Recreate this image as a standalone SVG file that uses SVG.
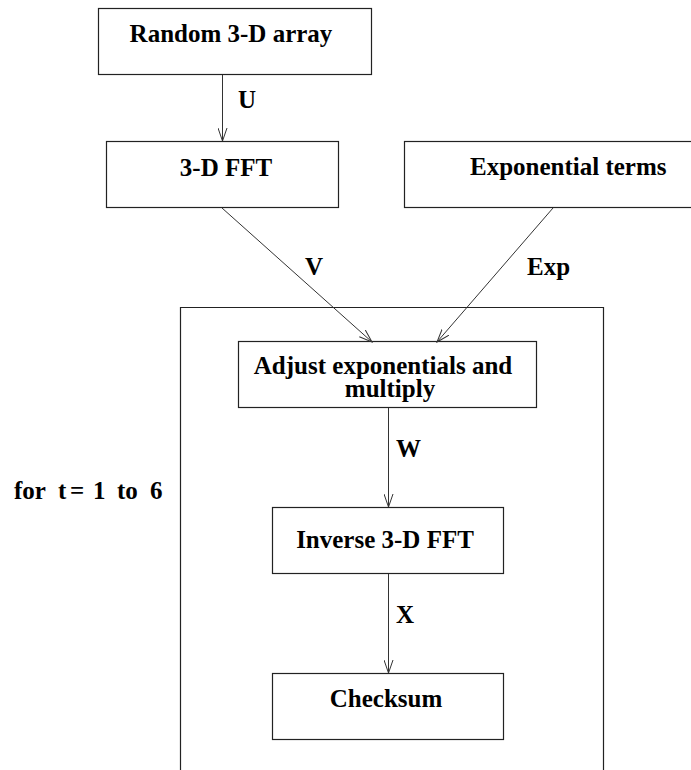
<svg xmlns="http://www.w3.org/2000/svg" width="691" height="770" viewBox="0 0 691 770">
<defs>
<style>
.box{fill:#fff;stroke:#222;stroke-width:1.2}
.loop{fill:none;stroke:#222;stroke-width:1.2}
.t{font-family:"Liberation Serif","Times New Roman",serif;font-weight:bold;font-size:25px;fill:#000}
.c{text-anchor:middle}
.edge{fill:none;stroke:#333;stroke-width:1}
</style>
<marker id="arr" viewBox="0 0 14 10" refX="13" refY="5" markerWidth="14" markerHeight="10" markerUnits="userSpaceOnUse" orient="auto">
<path d="M0,0.5 L13,5 L0,9.5" fill="none" stroke="#333" stroke-width="1"/>
</marker>
</defs>
<rect width="691" height="770" fill="#fff"/>
<g id="loop">
<path class="loop" d="M180.5,770 V307.5 H603.5 V770"/>
<text class="t" y="499"><tspan x="14">for</tspan><tspan x="58">t</tspan><tspan x="70">=</tspan><tspan x="93">1</tspan><tspan x="117">to</tspan><tspan x="150">6</tspan></text>
</g>
<g id="n-random">
<rect class="box" x="98.5" y="8.5" width="273" height="66"/>
<text class="t c" x="231" y="42">Random 3-D array</text>
</g>
<g id="n-fft">
<rect class="box" x="106.5" y="141.5" width="232" height="66"/>
<text class="t c" x="226" y="176">3-D FFT</text>
</g>
<g id="n-exp">
<rect class="box" x="404.5" y="141.5" width="300" height="66"/>
<text class="t" x="470" y="175">Exponential terms</text>
</g>
<g id="n-adjust">
<rect class="box" x="238.5" y="341.5" width="298" height="66"/>
<text class="t c" x="383" y="374">Adjust exponentials and</text>
<text class="t c" x="390" y="397">multiply</text>
</g>
<g id="n-ifft">
<rect class="box" x="272.5" y="507.5" width="231" height="66"/>
<text class="t c" x="385" y="548">Inverse 3-D FFT</text>
</g>
<g id="n-checksum">
<rect class="box" x="272.5" y="673.5" width="231" height="66"/>
<text class="t c" x="386" y="707">Checksum</text>
</g>
<g id="connectors">
<line class="edge" x1="222.5" y1="75" x2="222.5" y2="141" marker-end="url(#arr)"/>
<text class="t" x="238" y="108">U</text>
<line class="edge" x1="222" y1="208" x2="372" y2="342" marker-end="url(#arr)"/>
<text class="t" x="305" y="275">V</text>
<line class="edge" x1="553" y1="208" x2="437" y2="342" marker-end="url(#arr)"/>
<text class="t" x="527" y="275">Exp</text>
<line class="edge" x1="388.5" y1="408" x2="388.5" y2="507" marker-end="url(#arr)"/>
<text class="t" x="396" y="457">W</text>
<line class="edge" x1="388.5" y1="574" x2="388.5" y2="673" marker-end="url(#arr)"/>
<text class="t" x="396" y="623">X</text>
</g>
</svg>
